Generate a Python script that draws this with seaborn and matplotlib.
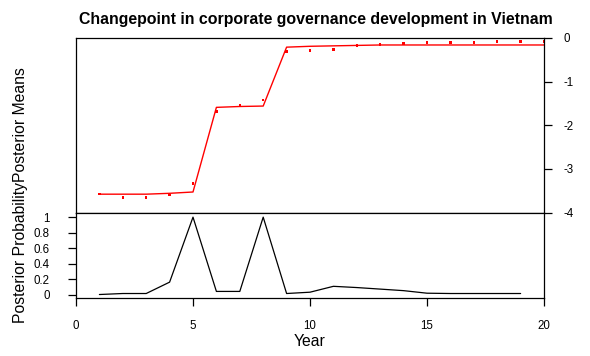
import numpy as np
import pandas as pd
import matplotlib
matplotlib.use('Agg')
import matplotlib.pyplot as plt
import seaborn as sns

# data (bcp-style plot)
years = list(range(1, 21))
observed = [-3.58, -3.66, -3.66, -3.60, -3.34, -1.69, -1.55, -1.42, -0.31, -0.29,
            -0.27, -0.17, -0.15, -0.13, -0.11, -0.11, -0.11, -0.08, -0.08, -0.08]
post_means = [-3.58, -3.58, -3.58, -3.56, -3.53, -1.59, -1.57, -1.56, -0.21, -0.19,
              -0.18, -0.17, -0.16, -0.16, -0.16, -0.16, -0.16, -0.16, -0.16, -0.16]
prob_years = list(range(1, 20))
post_prob = [0.0, 0.013, 0.013, 0.16, 1.0, 0.04, 0.04, 1.0, 0.013, 0.03,
             0.106, 0.09, 0.07, 0.05, 0.017, 0.013, 0.013, 0.013, 0.013]

x_ticks = [0, 5, 10, 15, 20]
mean_ticks = [0, -1, -2, -3, -4]
prob_ticks = [0, 0.2, 0.4, 0.6, 0.8, 1]

df_top = pd.DataFrame({'year': years, 'obs': observed, 'mean': post_means})
df_bot = pd.DataFrame({'year': prob_years, 'prob': post_prob})

sns.set_theme(style='ticks')
plt.rcParams['font.family'] = ['Liberation Sans', 'DejaVu Sans']
plt.rcParams['text.color'] = 'black'
plt.rcParams['axes.labelcolor'] = 'black'
plt.rcParams['axes.titlecolor'] = 'black'
plt.rcParams['axes.linewidth'] = 0.9
plt.rcParams['xtick.major.width'] = 0.9
plt.rcParams['ytick.major.width'] = 0.9

fig = plt.figure(figsize=(5.9, 3.56), dpi=100)
W, H = 590, 356
left, right = 76, 544
ax1 = fig.add_axes([left / W, 1 - 212.5 / H, (right - left) / W, (212.5 - 38) / H])
ax2 = fig.add_axes([left / W, 1 - 298 / H, (right - left) / W, (298 - 212.5) / H])

# top panel: posterior means + observations
sns.lineplot(data=df_top, x='year', y='mean', color='red', lw=1.0, ax=ax1)
sns.scatterplot(data=df_top, x='year', y='obs', color='red', marker='s', s=3.5,
                edgecolor='none', ax=ax1)
ax1.set_xlim(0, 20)
ax1.set_ylim(-4, 0)
ax1.yaxis.tick_right()
ax1.set_yticks(mean_ticks)
ax1.set_yticklabels([str(t) for t in mean_ticks])
ax1.set_xticks([])
ax1.set_xlabel('')
ax1.set_ylabel('')
ax1.tick_params(axis='y', labelsize=8.3, length=6, pad=8, colors='black')
for s in ax1.spines.values():
    s.set_visible(True)
    s.set_color('black')
ax1.set_title('Changepoint in corporate governance development in Vietnam',
              fontsize=11.4, fontweight='bold', pad=10, x=0.513)

# bottom panel: posterior probability
sns.lineplot(data=df_bot, x='year', y='prob', color='black', lw=0.9, ax=ax2)
ax2.set_xlim(0, 20)
ax2.set_ylim(-0.045, 1.06)
ax2.set_xticks(x_ticks)
ax2.set_xticklabels([str(t) for t in x_ticks])
ax2.set_yticks(prob_ticks)
ax2.set_yticklabels(['0', '0.2', '0.4', '0.6', '0.8', '1'])
ax2.tick_params(axis='both', labelsize=8.3, length=6, colors='black')
ax2.tick_params(axis='x', pad=10)
ax2.tick_params(axis='y', pad=13)
ax2.set_ylabel('')
ax2.set_xlabel('Year', fontsize=11.3, labelpad=1)
for s in ax2.spines.values():
    s.set_visible(True)
    s.set_color('black')

fig.text(21 / W, 1 - 195 / H, 'Posterior ProbabilityPosterior Means',
         rotation=90, ha='center', va='center', fontsize=11.3)

fig.savefig('out.png', dpi=100)
